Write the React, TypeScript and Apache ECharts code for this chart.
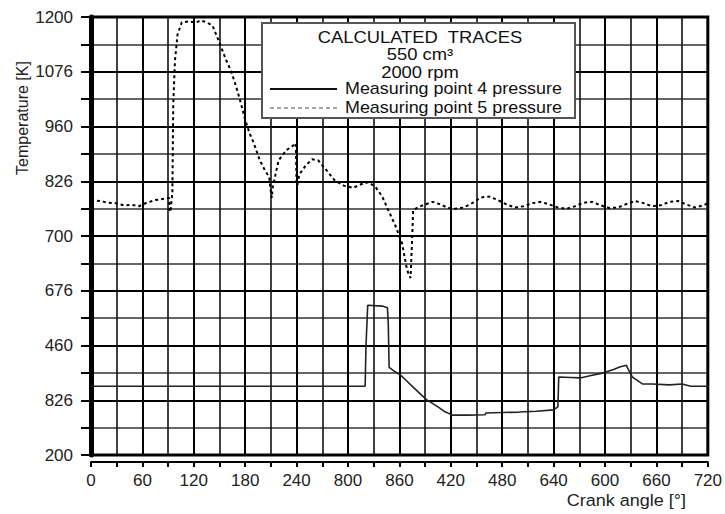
import React, { useEffect, useRef } from "react";
import * as echarts from "echarts";

const xTickLabels = ["0", "60", "120", "180", "240", "800", "860", "420", "480", "640", "600", "660", "720"];
const yTickLabels = ["200", "826", "460", "676", "700", "826", "960", "1076", "1200"];

const titleLines = ["CALCULATED  TRACES", "550 cm\u00B3", "2000 rpm"];
const seriesNames = ["Measuring point 4 pressure", "Measuring point 5 pressure"];

// Measuring point 4 (solid)
const angle4 = [0, 320, 321, 323, 340, 346, 347, 348, 355, 361, 368, 376, 384, 392, 400, 405, 412, 422, 440, 460, 461, 480, 500, 520, 540, 545, 546, 560, 571, 585, 597, 610, 617, 625, 626, 632, 638, 644, 655, 675, 690, 700, 720];
const temp4 = [357, 357, 450, 542, 540, 536, 500, 400, 390, 383, 370, 355, 340, 326, 316, 310, 300, 291, 291, 292, 296, 297, 298, 300, 303, 310, 378, 377, 376, 382, 387, 395, 401, 405, 400, 378, 370, 362, 362, 360, 362, 357, 357];

// Measuring point 5 (dashed)
const angle5 = [0, 10, 20, 29, 38, 47, 56, 65, 75, 85, 91, 92, 93, 95, 96, 98, 101, 106, 115, 122, 128, 135, 142, 151, 157, 163, 168, 174, 180, 185, 190, 197, 203, 208, 210, 211, 212, 219, 228, 235, 239, 240, 241, 243, 251, 258, 265, 275, 284, 295, 306, 315, 324, 332, 340, 347, 355, 363, 369, 373, 375, 376, 382, 390, 399, 408, 417, 425, 435, 445, 455, 465, 475, 485, 495, 505, 515, 525, 535, 545, 555, 565, 575, 585, 595, 605, 615, 625, 635, 645, 655, 665, 675, 685, 695, 705, 715, 720];
const temp5 = [782, 780, 776, 775, 770, 771, 768, 776, 782, 785, 787, 755, 760, 800, 1000, 1100, 1160, 1188, 1190, 1187, 1192, 1188, 1180, 1136, 1105, 1079, 1050, 1010, 965, 935, 912, 873, 850, 835, 800, 787, 810, 873, 896, 905, 912, 820, 816, 840, 862, 875, 873, 850, 828, 815, 810, 818, 823, 812, 790, 759, 725, 684, 622, 604, 700, 759, 766, 772, 778, 772, 764, 762, 765, 775, 788, 790, 782, 772, 765, 768, 775, 778, 772, 765, 762, 768, 776, 778, 770, 764, 765, 773, 780, 775, 768, 770, 778, 780, 772, 765, 770, 775];

const FONT = "Liberation Sans, Arial, Helvetica, sans-serif";

export default function App() {
  const ref = useRef<HTMLDivElement>(null);
  useEffect(() => {
    if (!ref.current) return;
    const chart = echarts.init(ref.current, null, { renderer: "svg" });
    const d4 = angle4.map((a, i) => [a, temp4[i]]);
    const d5 = angle5.map((a, i) => [a, temp5[i]]);
    chart.setOption({
      animation: false,
      backgroundColor: "#fff",
      textStyle: { fontFamily: FONT },
      grid: {
        left: 91, top: 17, width: 625, height: 438,
        show: true, borderColor: "#000", borderWidth: 3, backgroundColor: "transparent",
      },
      xAxis: {
        type: "value", min: 0, max: 720, interval: 60, offset: 7,
        axisLine: { show: true, lineStyle: { color: "#000", width: 2 } },
        axisTick: { show: true, length: 5, lineStyle: { color: "#000", width: 2 } },
        minorTick: { show: true, splitNumber: 2, length: 5, lineStyle: { color: "#000", width: 2 } },
        axisLabel: {
          color: "#222", fontSize: 17, fontFamily: FONT, margin: 10,
          formatter: (v: number) => xTickLabels[Math.round(v / 60)] ?? "",
        },
        splitLine: { show: true, lineStyle: { color: "#000", width: 2 } },
        minorSplitLine: { show: true, lineStyle: { color: "#111", width: 1.6 } },
      },
      yAxis: {
        type: "value", min: 200, max: 1200, interval: 125,
        axisLine: { show: true, lineStyle: { color: "#000", width: 5 } },
        axisTick: { show: true, length: 10, lineStyle: { color: "#000", width: 2 } },
        minorTick: { show: true, splitNumber: 2, length: 10, lineStyle: { color: "#000", width: 2 } },
        axisLabel: {
          color: "#222", fontSize: 17, fontFamily: FONT, margin: 18,
          formatter: (v: number) => yTickLabels[Math.round((v - 200) / 125)] ?? "",
        },
        splitLine: { show: true, lineStyle: { color: "#000", width: 2 } },
        minorSplitLine: { show: true, lineStyle: { color: "#333", width: 1.6 } },
      },
      legend: { show: false },
      graphic: [
        {
          type: "rect", z: 10,
          shape: { x: 262, y: 23, width: 313, height: 95 },
          style: { fill: "#fff", stroke: "#555", lineWidth: 2 },
        },
        ...titleLines.map((t, i) => ({
          type: "text", z: 11,
          x: 420, y: [37, 54, 72][i], scaleX: 1.15,
          style: { text: t, fontSize: 16, fontFamily: FONT, fill: "#111", align: "center", verticalAlign: "middle" },
        })),
        {
          type: "line", z: 11,
          shape: { x1: 270, y1: 89, x2: 337, y2: 89 },
          style: { stroke: "#111", lineWidth: 2 },
        },
        {
          type: "line", z: 11,
          shape: { x1: 270, y1: 108, x2: 337, y2: 108 },
          style: { stroke: "#888", lineWidth: 1.5, lineDash: [4, 3] },
        },
        ...seriesNames.map((t, i) => ({
          type: "text", z: 11,
          x: 345, y: [89, 108][i], scaleX: 1.12,
          style: { text: t, fontSize: 16, fontFamily: FONT, fill: "#111", align: "left", verticalAlign: "middle" },
        })),
        {
          type: "text", z: 11, x: 22, y: 118, rotation: Math.PI / 2,
          style: { text: "Temperature [K]", fontSize: 16, fontFamily: FONT, fill: "#222", align: "center", verticalAlign: "middle" },
        },
        {
          type: "text", z: 11, x: 686, y: 500, scaleX: 1.06,
          style: { text: "Crank angle [\u00B0]", fontSize: 17, fontFamily: FONT, fill: "#222", align: "right", verticalAlign: "middle" },
        },
      ],
      series: [
        {
          name: seriesNames[0], type: "line", data: d4, symbol: "none", z: 5,
          lineStyle: { color: "#222", width: 1.6, type: "solid" },
          itemStyle: { color: "#222" },
        },
        {
          name: seriesNames[1], type: "line", data: d5, symbol: "none", z: 5,
          lineStyle: { color: "#000", width: 2, type: [3, 3] },
          itemStyle: { color: "#000" },
        },
      ],
    });
    return () => chart.dispose();
  }, []);
  return <div ref={ref} style={{ position: "fixed", left: 0, top: 0, width: 725, height: 514 }} />;
}
